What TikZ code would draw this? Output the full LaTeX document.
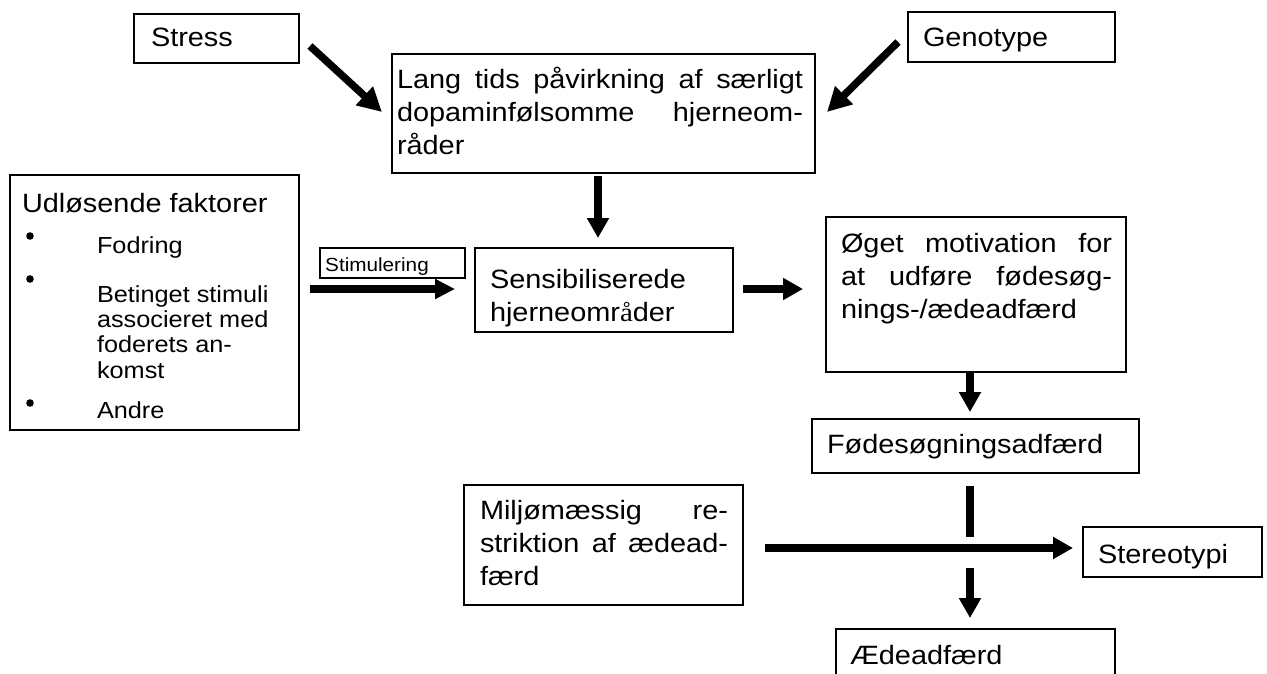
\documentclass[tikz,border=0pt]{standalone}
\usepackage{fontspec}
\setmainfont{Liberation Sans}[FakeStretch=1.09]
\newfontfamily\serfont{Liberation Serif}[FakeStretch=1.09]
\usetikzlibrary{arrows.meta}
\newcommand{\mainsz}{\fontsize{26.5pt}{33pt}\selectfont}
\newcommand{\itemsz}{\fontsize{23.2pt}{25.4pt}\selectfont}
\newcommand{\smallsz}{\fontsize{19pt}{22pt}\selectfont}
\newcommand{\jline}[2]{\makebox[#1][s]{#2}}
\begin{document}
\begin{tikzpicture}[x=1pt,y=-1pt,
  box/.style={draw=black, line width=1.8pt, rectangle, inner sep=0pt, outer sep=0pt},
  txt/.style={anchor=base west, inner sep=0pt, outer sep=0pt, font=\mainsz},
  itxt/.style={anchor=base west, inner sep=0pt, outer sep=0pt, font=\itemsz},
  arr/.style={line width=7.5pt, -{Triangle[length=20pt,width=21pt]}},
  darr/.style={line width=7.5pt, -{Triangle[length=24pt,width=24pt]}},
  seg/.style={line width=7.5pt}]

\useasboundingbox (0,0) rectangle (1267,674);
\fill[white] (0,0) rectangle (1267,674);
\clip (0,0) rectangle (1267,674);

% boxes
\node[box, minimum width=165pt, minimum height=49pt] (stress) at (216.5,38.5) {};
\node[box, minimum width=207pt, minimum height=50pt] (geno) at (1011.5,37) {};
\node[box, minimum width=423pt, minimum height=119pt] (lang) at (603.5,113.5) {};
\node[box, minimum width=289pt, minimum height=255pt] (udl) at (154.5,302.5) {};
\node[box, minimum width=145pt, minimum height=30pt] (stim) at (392.5,263) {};
\node[box, minimum width=258pt, minimum height=84pt] (sens) at (604,290) {};
\node[box, minimum width=300pt, minimum height=155pt] (oget) at (976,294.5) {};
\node[box, minimum width=327pt, minimum height=54pt] (fodes) at (975.5,446) {};
\node[box, minimum width=279pt, minimum height=120pt] (milj) at (603.5,545) {};
\node[box, minimum width=179pt, minimum height=50pt] (stereo) at (1172.5,552) {};
\node[box, minimum width=279pt, minimum height=91pt] (aede) at (975.5,674.5) {};

% texts
\node[txt] (tstress) at (151,47) {Stress};
\node[txt] (tgeno) at (923,47) {Genotype};
\node[txt] (tlang) at (397,89) {\parbox[t]{406pt}{\mainsz\jline{406pt}{Lang tids påvirkning af særligt}\\\jline{406pt}{dopaminfølsomme hjerneom-}\\råder}};
\node[txt] (tudl) at (22,212) {Udløsende faktorer};
\node[itxt] (tfod) at (97,253) {Fodring};
\node[itxt] (tbet) at (97,302) {\parbox[t]{195pt}{\itemsz Betinget stimuli\\associeret med\\foderets an-\\komst}};
\node[itxt] (tand) at (97,418) {Andre};
\node[anchor=base west, inner sep=0pt, font=\smallsz] (tstim) at (325,271) {Stimulering};
\node[txt] (tsens) at (490,288) {\parbox[t]{240pt}{\mainsz Sensibiliserede\\hjerneomr{\serfont å}der}};
\node[txt] (toget) at (841,252) {\parbox[t]{271pt}{\mainsz\jline{271pt}{Øget motivation for}\\\jline{271pt}{at udføre fødesøg-}\\nings-/ædeadfærd}};
\node[txt] (tfodes) at (827,453) {Fødesøgningsadfærd};
\node[txt] (tmilj) at (480,519) {\parbox[t]{248pt}{\mainsz\jline{248pt}{Miljømæssig re-}\\\jline{248pt}{striktion af ædead-}\\færd}};
\node[txt] (tstereo) at (1098,563) {Stereotypi};
\node[txt] (taede) at (850,664) {Ædeadfærd};

% bullets
\fill (30,236) circle (3.8);
\fill (30,279) circle (3.8);
\fill (30,403) circle (3.8);

% connectors
\draw[darr] ([shift={(11,32)}]stress.north east) -- ([shift={(-10,-1.5)}]lang.west);
\draw[darr] ([shift={(-10,30)}]geno.north west) -- ([shift={(12,-1.5)}]lang.east);
\draw[arr] ([shift={(-5.5,3)}]lang.south) -- ([shift={(-6,-10)}]sens.north);
\draw[line width=8pt, -{Triangle[length=20pt,width=19pt]}] ([shift={(11,-13.5)}]udl.east) -- ([shift={(-20,-1)}]sens.west);
\draw[arr] ([shift={(10,-1)}]sens.east) -- ([shift={(-23,-5.5)}]oget.west);
\draw[arr] ([shift={(-6,0)}]oget.south) -- ([shift={(-5.5,-7)}]fodes.north);
\coordinate (gaptop) at ([shift={(-5.5,64)}]fodes.south);
\coordinate (gapbot) at ([shift={(-5.5,-61)}]aede.north);
\draw[seg] ([shift={(-5.5,13)}]fodes.south) -- (gaptop);
\draw[arr] (gapbot) -- ([shift={(-5.5,-11)}]aede.north);
\draw[arr] ([shift={(22,3)}]milj.east) -- ([shift={(-10,-4)}]stereo.west);
\end{tikzpicture}
\end{document}
